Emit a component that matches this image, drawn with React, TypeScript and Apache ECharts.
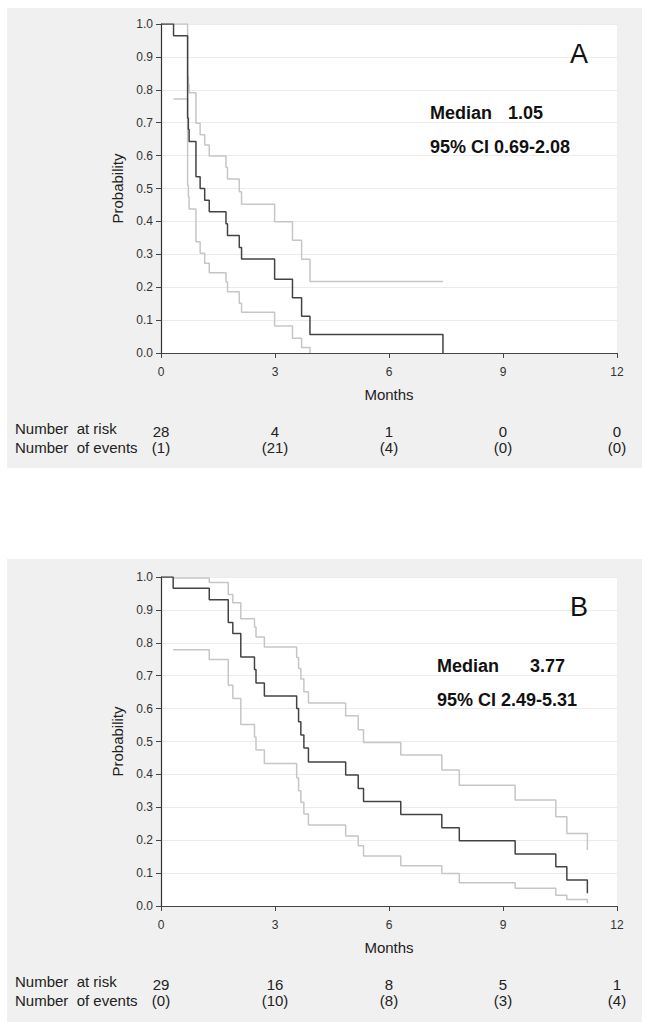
import React, { useEffect, useRef } from "react";
import * as echarts from "echarts";

// ---------- data ----------
const riskTimes = [0, 3, 6, 9, 12];
const atRiskA = [28, 4, 1, 0, 0];
const eventsA = [1, 21, 4, 0, 0];
const atRiskB = [29, 16, 8, 5, 1];
const eventsB = [0, 10, 8, 3, 4];

// Panel A (Kaplan-Meier estimate and 95% CI bounds)
const timesA = [0, 0.33, 0.70, 0.72, 0.74, 0.92, 1.03, 1.15, 1.27, 1.71, 1.75, 2.06, 2.12, 2.99, 3.46, 3.70, 3.92, 7.42];
const survA = [1.0, 0.964, 0.714, 0.679, 0.643, 0.536, 0.5, 0.464, 0.429, 0.393, 0.357, 0.321, 0.286, 0.224, 0.168, 0.112, 0.056, 0];
const ciTimesA = [0.33, 0.70, 0.72, 0.74, 0.92, 1.03, 1.15, 1.27, 1.71, 1.75, 2.06, 2.12, 2.99, 3.46, 3.70, 3.92];
const upperA = [1.0, 0.84, 0.815, 0.791, 0.698, 0.663, 0.632, 0.599, 0.564, 0.529, 0.49, 0.452, 0.399, 0.343, 0.285, 0.217];
const upperEndA = [7.42, 0.217];
const lowerA = [0.772, 0.51, 0.475, 0.438, 0.338, 0.303, 0.273, 0.244, 0.216, 0.186, 0.151, 0.124, 0.082, 0.045, 0.017, 0];

// Panel B
const timesB = [0, 0.32, 1.27, 1.77, 1.89, 2.10, 2.46, 2.50, 2.72, 3.57, 3.62, 3.68, 3.76, 3.88, 4.86, 5.19, 5.33, 6.31, 7.39, 7.85, 9.32, 10.39, 10.68, 11.22];
const survB = [1.0, 0.966, 0.931, 0.862, 0.828, 0.757, 0.719, 0.678, 0.638, 0.60, 0.56, 0.52, 0.48, 0.438, 0.398, 0.357, 0.318, 0.278, 0.238, 0.198, 0.158, 0.119, 0.079, 0.039];
const ciTimesB = [0.32, 1.27, 1.77, 1.89, 2.10, 2.46, 2.50, 2.72, 3.57, 3.62, 3.68, 3.76, 3.88, 4.86, 5.19, 5.33, 6.31, 7.39, 7.85, 9.32, 10.39, 10.68, 11.22];
const upperB = [0.997, 0.983, 0.947, 0.922, 0.873, 0.848, 0.818, 0.787, 0.755, 0.722, 0.69, 0.651, 0.617, 0.578, 0.536, 0.497, 0.459, 0.413, 0.367, 0.322, 0.271, 0.22, 0.17];
const lowerB = [0.779, 0.749, 0.671, 0.631, 0.552, 0.514, 0.474, 0.433, 0.39, 0.35, 0.315, 0.28, 0.246, 0.213, 0.183, 0.152, 0.122, 0.099, 0.071, 0.054, 0.033, 0.02, 0.008];

const panelA = { letter: "A", median: "1.05", ci: "95% CI 0.69-2.08" };
const panelB = { letter: "B", median: "3.77", ci: "95% CI 2.49-5.31" };

const FONT = "'Liberation Sans', Arial, sans-serif";
const DARK = "#434343";
const LIGHT = "#c6c6c6";

const zip = (xs: number[], ys: number[]) => xs.map((x, i) => [x, ys[i]]);

export default function App() {
  const ref = useRef<HTMLDivElement>(null);
  useEffect(() => {
    if (!ref.current) return;
    const chart = echarts.init(ref.current, undefined, { renderer: "svg" });
    const gridTops = [24, 577];
    const grids = gridTops.map((t) => ({
      left: 161,
      top: t,
      width: 456,
      height: 329,
      show: true,
      backgroundColor: "#ffffff",
      borderWidth: 0,
      containLabel: false,
    }));
    const xAxes = [0, 1].map((i) => ({
      type: "value",
      gridIndex: i,
      min: 0,
      max: 12,
      interval: 3,
      name: "Months",
      nameLocation: "middle",
      nameGap: 34,
      nameTextStyle: { fontFamily: FONT, fontSize: 15, color: "#222" },
      axisLine: { show: true, onZero: false, lineStyle: { color: "#444", width: 1 } },
      axisTick: { show: true, length: 5, lineStyle: { color: "#444" } },
      axisLabel: { fontFamily: FONT, fontSize: 12, color: "#333", margin: 13 },
      splitLine: { show: false },
    }));
    const yAxes = [0, 1].map((i) => ({
      type: "value",
      gridIndex: i,
      min: 0,
      max: 1,
      interval: 0.1,
      name: "Probability",
      nameLocation: "middle",
      nameGap: 36,
      nameRotate: 90,
      nameTextStyle: { fontFamily: FONT, fontSize: 15, color: "#222" },
      axisLine: { show: true, lineStyle: { color: "#333", width: 1.2 } },
      axisTick: { show: true, length: 5, lineStyle: { color: "#444" } },
      axisLabel: {
        fontFamily: FONT,
        fontSize: 12,
        color: "#333",
        margin: 8,
        formatter: (v: number) => v.toFixed(1),
      },
      splitLine: { show: true, lineStyle: { color: "#ebebeb", width: 1 } },
    }));
    const line = (idx: number, data: number[][], color: string, z: number) => ({
      type: "line",
      xAxisIndex: idx,
      yAxisIndex: idx,
      data,
      step: "end",
      showSymbol: false,
      symbol: "none",
      lineStyle: { color, width: 1.5 },
      z,
      silent: true,
    });
    const series = [
      line(0, [...zip(ciTimesA, upperA), upperEndA], LIGHT, 2),
      line(0, zip(ciTimesA, lowerA), LIGHT, 2),
      line(0, zip(timesA, survA), DARK, 3),
      line(1, zip(ciTimesB, upperB), LIGHT, 2),
      line(1, zip(ciTimesB, lowerB), LIGHT, 2),
      line(1, zip(timesB, survB), DARK, 3),
    ];
    chart.setOption({
      animation: false,
      grid: grids,
      xAxis: xAxes,
      yAxis: yAxes,
      series,
    });

    const txt = (x: number, y: number, text: string, extra: any = {}) => ({
      type: "text",
      x,
      y,
      silent: true,
      z: 10,
      style: {
        text,
        fontFamily: FONT,
        fontSize: 15,
        fill: "#222",
        textVerticalAlign: "middle",
        verticalAlign: "middle",
        ...extra,
      },
    });

    const graphics: any[] = [
      { type: "rect", z: -10, silent: true, shape: { x: 7, y: 8, width: 635, height: 460 }, style: { fill: "#f0f0f0" } },
      { type: "rect", z: -10, silent: true, shape: { x: 7, y: 559, width: 635, height: 463 }, style: { fill: "#f0f0f0" } },
    ];
    const panels = [
      { p: panelA, risk: atRiskA, ev: eventsA, top: gridTops[0], medX: 430, numX: 508 },
      { p: panelB, risk: atRiskB, ev: eventsB, top: gridTops[1], medX: 437, numX: 530 },
    ];
    panels.forEach((pl, gi) => {
      graphics.push(txt(579, pl.top + 30, pl.p.letter, { fontSize: 27, textAlign: "center", align: "center", fill: "#111" }));
      graphics.push(txt(pl.medX, pl.top + 89, "Median", { fontSize: 18, fontWeight: "bold", fill: "#111" }));
      graphics.push(txt(pl.numX, pl.top + 89, pl.p.median, { fontSize: 18, fontWeight: "bold", fill: "#111" }));
      graphics.push(txt(pl.medX, pl.top + 123, pl.p.ci, { fontSize: 18, fontWeight: "bold", fill: "#111" }));
      graphics.push(txt(15, pl.top + 404, "Number  at risk"));
      graphics.push(txt(15, pl.top + 423, "Number  of events"));
      riskTimes.forEach((t, i) => {
        const px = chart.convertToPixel({ gridIndex: gi } as any, [t, 0]) as number[];
        graphics.push(txt(px[0], pl.top + 407, String(pl.risk[i]), { textAlign: "center", align: "center" }));
        graphics.push(txt(px[0], pl.top + 423, "(" + pl.ev[i] + ")", { textAlign: "center", align: "center" }));
      });
    });
    chart.setOption({ graphic: graphics });
    return () => chart.dispose();
  }, []);
  return (
    <div
      ref={ref}
      style={{ position: "absolute", left: 0, top: 0, width: 650, height: 1024, background: "#ffffff" }}
    />
  );
}
